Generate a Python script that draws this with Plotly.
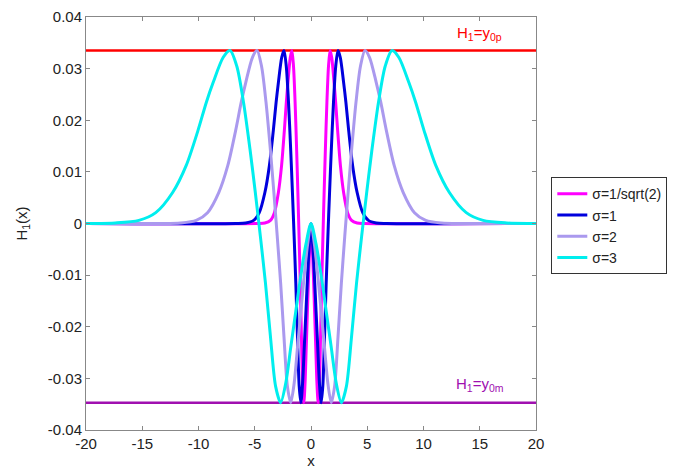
import plotly.graph_objects as go

# Curve heights, shared by all four curves at their own x positions
h1_profile = [0, 0, 0.0001, 0.0006, 0.0021, 0.0060, 0.0112, 0.0180, 0.0235, 0.0273, 0.0322, 0.0335,
              0.0305, 0.0235, 0.0140, 0.0060, -0.0025, -0.0115, -0.0220, -0.0315, -0.0347, -0.0310,
              -0.0240, -0.0170, -0.0100, -0.0040, 0,
              -0.0040, -0.0100, -0.0170, -0.0240, -0.0310, -0.0347, -0.0315, -0.0220, -0.0115, -0.0025,
              0.0060, 0.0140, 0.0235, 0.0305, 0.0335, 0.0322, 0.0273, 0.0235, 0.0180, 0.0112, 0.0060,
              0.0021, 0.0006, 0.0001, 0, 0]

x_sigma_07 = [-20, -4.738, -4.101, -3.606, -3.253, -2.899, -2.616, -2.369, -2.192, -2.051, -1.838, -1.697,
              -1.556, -1.414, -1.273, -1.167, -1.061, -0.955, -0.849, -0.742, -0.636, -0.530,
              -0.424, -0.318, -0.212, -0.106, 0,
              0.106, 0.212, 0.318, 0.424, 0.530, 0.636, 0.742, 0.849, 0.955, 1.061,
              1.167, 1.273, 1.414, 1.556, 1.697, 1.838, 2.051, 2.192, 2.369, 2.616, 2.899,
              3.253, 3.606, 4.101, 4.738, 20]

x_sigma_1 = [-20, -6.7, -5.8, -5.1, -4.6, -4.1, -3.7, -3.35, -3.1, -2.9, -2.6, -2.4,
             -2.2, -2.0, -1.8, -1.65, -1.5, -1.35, -1.2, -1.05, -0.9, -0.75,
             -0.6, -0.45, -0.3, -0.15, 0,
             0.15, 0.3, 0.45, 0.6, 0.75, 0.9, 1.05, 1.2, 1.35, 1.5,
             1.65, 1.8, 2.0, 2.2, 2.4, 2.6, 2.9, 3.1, 3.35, 3.7, 4.1,
             4.6, 5.1, 5.8, 6.7, 20]

x_sigma_2 = [-20, -13.4, -11.6, -10.2, -9.2, -8.2, -7.4, -6.7, -6.2, -5.8, -5.2, -4.8,
             -4.4, -4.0, -3.6, -3.3, -3.0, -2.7, -2.4, -2.1, -1.8, -1.5,
             -1.2, -0.9, -0.6, -0.3, 0,
             0.3, 0.6, 0.9, 1.2, 1.5, 1.8, 2.1, 2.4, 2.7, 3.0,
             3.3, 3.6, 4.0, 4.4, 4.8, 5.2, 5.8, 6.2, 6.7, 7.4, 8.2,
             9.2, 10.2, 11.6, 13.4, 20]

x_sigma_3 = [-20, -19.5, -17.4, -15.3, -13.8, -12.3, -11.1, -10.05, -9.3, -8.7, -7.8, -7.2,
             -6.6, -6.0, -5.4, -4.95, -4.5, -4.05, -3.6, -3.15, -2.7, -2.25,
             -1.8, -1.35, -0.9, -0.45, 0,
             0.45, 0.9, 1.35, 1.8, 2.25, 2.7, 3.15, 3.6, 4.05, 4.5,
             4.95, 5.4, 6.0, 6.6, 7.2, 7.8, 8.7, 9.3, 10.05, 11.1, 12.3,
             13.8, 15.3, 17.4, 19.5, 20]

series_names = ["σ=1/sqrt(2)", "σ=1", "σ=2", "σ=3"]
series_x = [x_sigma_07, x_sigma_1, x_sigma_2, x_sigma_3]
series_colors = ["#ff00ff", "#0000dd", "#aa99ee", "#00eeee"]

level_x = [-20, 20]
y0p = 0.0335
y0m = -0.0347

x_ticks = [-20, -15, -10, -5, 0, 5, 10, 15, 20]
x_ticktext = ["-20", "-15", "-10", "-5", "0", "5", "10", "15", "20"]
y_ticks = [-0.04, -0.03, -0.02, -0.01, 0, 0.01, 0.02, 0.03, 0.04]
y_ticktext = ["-0.04", "-0.03", "-0.02", "-0.01", "0", "0.01", "0.02", "0.03", "0.04"]

fig = go.Figure()

fig.add_trace(go.Scatter(x=level_x, y=[y0p, y0p], mode="lines",
                         line=dict(color="#ff0000", width=2.5), showlegend=False, hoverinfo="skip"))
fig.add_trace(go.Scatter(x=level_x, y=[y0m, y0m], mode="lines",
                         line=dict(color="#a010b0", width=2.5), showlegend=False, hoverinfo="skip"))

for name, xs, col in zip(series_names, series_x, series_colors):
    fig.add_trace(go.Scatter(x=xs, y=h1_profile, mode="lines", name=name,
                             line=dict(color=col, width=3, shape="spline", smoothing=0.8)))

fig.add_annotation(x=14.95, y=0.0369, xref="x", yref="y", text="H<sub>1</sub>=y<sub>0p</sub>",
                   showarrow=False, font=dict(color="#ff0000", size=15))
fig.add_annotation(x=15.0, y=-0.0312, xref="x", yref="y", text="H<sub>1</sub>=y<sub>0m</sub>",
                   showarrow=False, font=dict(color="#a010b0", size=15))

axis_common = dict(showgrid=False, zeroline=False, showline=True, linecolor="#888888", linewidth=1,
                   mirror="ticks", ticks="inside", ticklen=4, tickcolor="#888888", automargin=False,
                   tickfont=dict(size=15, color="#222222"))

fig.update_xaxes(range=[-20, 20], tickvals=x_ticks, ticktext=x_ticktext,
                 title=dict(text="x", font=dict(size=15, color="#222222"), standoff=0), **axis_common)
fig.update_yaxes(range=[-0.04, 0.04], tickvals=y_ticks, ticktext=y_ticktext,
                 title=dict(text="H<sub>1</sub>(x)", font=dict(size=15, color="#222222"), standoff=16),
                 **axis_common)

fig.update_layout(
    width=668, height=465,
    margin=dict(l=78, r=135, t=9, b=43),
    paper_bgcolor="white", plot_bgcolor="white",
    font=dict(family="Liberation Sans, Arial, sans-serif", size=15, color="#222222"),
    legend=dict(x=1.034, y=0.612, xanchor="left", yanchor="top",
                bordercolor="#333333", borderwidth=1, bgcolor="white",
                font=dict(size=14), tracegroupgap=0, itemwidth=30),
)

fig.write_html("out.html")
